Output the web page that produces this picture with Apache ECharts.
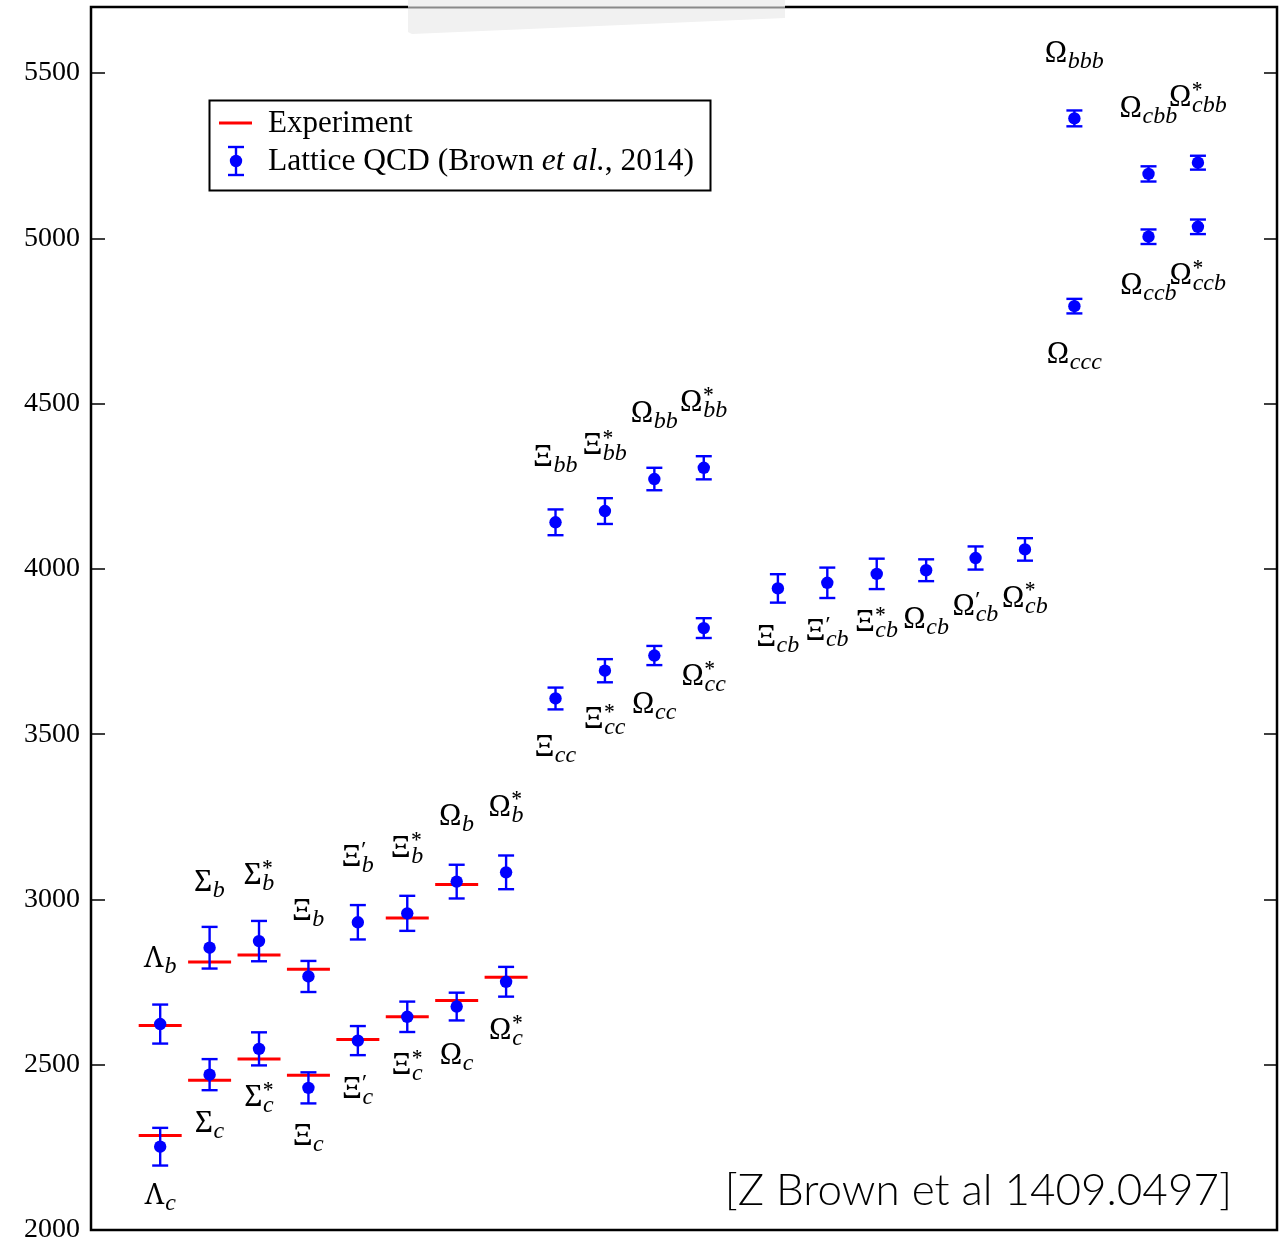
<!DOCTYPE html>
<html>
<head>
<meta charset="utf-8">
<script src="https://cdn.jsdelivr.net/npm/echarts@6/dist/echarts.min.js"></script>
<style>
  html, body { margin: 0; padding: 0; background: #fff; }
  #main { width: 1280px; height: 1242px; }
</style>
</head>
<body>
<div id="main"></div>
<script>
// slots along the hidden x axis
const singlySlots = [0, 1, 2, 3, 4, 5, 6, 7];
const doublySlots = [8, 9, 10, 11];
const cbSlots = [12.5, 13.5, 14.5, 15.5, 16.5, 17.5];
const triplySlots = [18.5, 20, 21];

// singly charmed baryons
const charmNames = ['Λ_c', 'Σ_c', 'Σ^*_c', 'Ξ_c', 'Ξ^′_c', 'Ξ^*_c', 'Ω_c', 'Ω^*_c'];
const charmLattice = [2252, 2470, 2548, 2430, 2573, 2645, 2676, 2751];
const charmErr = [57, 47, 50, 47, 44, 46, 42, 45];
const charmExpt = [2286, 2453, 2517, 2468, 2576, 2645, 2694, 2765];

// singly bottom baryons (shifted down by 3000)
const bottomNames = ['Λ_b', 'Σ_b', 'Σ^*_b', 'Ξ_b', 'Ξ^′_b', 'Ξ^*_b', 'Ω_b', 'Ω^*_b'];
const bottomLattice = [2623, 2854, 2874, 2767, 2931, 2958, 3054, 3082];
const bottomErr = [59, 63, 61, 47, 52, 53, 51, 51];
const bottomExpt = [2619, 2811, 2832, 2789, null, 2944, 3045, null];

// doubly heavy
const ccNames = ['Ξ_cc', 'Ξ^*_cc', 'Ω_cc', 'Ω^*_cc'];
const ccLattice = [3608, 3692, 3738, 3821];
const ccErr = [33, 35, 29, 30];

const bbNames = ['Ξ_bb', 'Ξ^*_bb', 'Ω_bb', 'Ω^*_bb'];
const bbLattice = [4141, 4175, 4272, 4306];
const bbErr = [39, 39, 34, 35];

const cbNames = ['Ξ_cb', 'Ξ^′_cb', 'Ξ^*_cb', 'Ω_cb', 'Ω^′_cb', 'Ω^*_cb'];
const cbLattice = [3941, 3958, 3985, 3996, 4033, 4059];
const cbErr = [43, 46, 46, 33, 35, 34];

// triply heavy
const triLowNames = ['Ω_ccc', 'Ω_ccb', 'Ω^*_ccb'];
const triLowLattice = [4795, 5005, 5035];
const triLowErr = [22, 22, 22];

const triHighNames = ['Ω_bbb', 'Ω_cbb', 'Ω^*_cbb'];
const triHighLattice = [5363, 5195, 5229];
const triHighErr = [24, 23, 21];

const yTicks = [2000, 2500, 3000, 3500, 4000, 4500, 5000, 5500];

const SERIF = '"Liberation Serif", "DejaVu Serif", serif';
const GREEK = '"Noto Serif", "DejaVu Serif", serif';
const BLUE = '#0000ff';
const RED = '#ff0000';

const groups = [
  { slots: singlySlots, names: charmNames, lattice: charmLattice, err: charmErr, side: 'below' },
  { slots: singlySlots, names: bottomNames, lattice: bottomLattice, err: bottomErr, side: 'above' },
  { slots: doublySlots, names: ccNames, lattice: ccLattice, err: ccErr, side: 'below' },
  { slots: doublySlots, names: bbNames, lattice: bbLattice, err: bbErr, side: 'above' },
  { slots: cbSlots, names: cbNames, lattice: cbLattice, err: cbErr, side: 'below' },
  { slots: triplySlots, names: triLowNames, lattice: triLowLattice, err: triLowErr, side: 'below' },
  { slots: triplySlots, names: triHighNames, lattice: triHighLattice, err: triHighErr, side: 'above' }
];

const points = [];
groups.forEach(function (g) {
  g.slots.forEach(function (s, i) {
    points.push({ value: [s, g.lattice[i], g.err[i]], name: g.names[i], side: g.side });
  });
});

const exptData = [];
singlySlots.forEach(function (s, i) {
  if (charmExpt[i] != null) exptData.push([s, charmExpt[i]]);
  if (bottomExpt[i] != null) exptData.push([s, bottomExpt[i]]);
});

// text measuring for the math-style labels
const measureCtx = document.createElement('canvas').getContext('2d');
function textWidth(t, font) {
  measureCtx.font = font;
  return measureCtx.measureText(t).width;
}
const baseFont = '29px ' + GREEK;
const subFont = 'italic 24px ' + SERIF;
const supFont = '21px ' + GREEK;

function txt(text, x, y, font) {
  return {
    type: 'text',
    x: x,
    y: y,
    style: {
      text: text, font: font, fill: '#000',
      align: 'left', verticalAlign: 'middle',
      textAlign: 'left', textVerticalAlign: 'middle'
    }
  };
}

function labelChildren(name, cx, capMid) {
  const base = name.charAt(0);
  const rest = name.slice(1);
  let sup = '';
  let sub = '';
  const m = rest.match(/^(?:\^([^_]*))?(?:_(.*))?$/);
  if (m) { sup = m[1] || ''; sub = m[2] || ''; }
  const wb = textWidth(base, baseFont);
  const ws = sub ? textWidth(sub, subFont) : 0;
  const wu = sup ? textWidth(sup, supFont) : 0;
  const total = wb + 1 + Math.max(ws, wu);
  const left = cx - total / 2;
  const out = [txt(base, left, capMid, baseFont)];
  if (sub) out.push(txt(sub, left + wb + 1, capMid + 8, subFont));
  if (sup) out.push(txt(sup, left + wb + 1, capMid - 5, supFont));
  return out;
}

const chart = echarts.init(document.getElementById('main'));

const option = {
  backgroundColor: '#fff',
  animation: false,
  grid: {
    left: 91, right: 3, top: 7, bottom: 12,
    show: true, borderColor: '#000', borderWidth: 2.5,
    outerBoundsMode: 'none'
  },
  xAxis: {
    type: 'value', min: -1.4, max: 22.6, show: false
  },
  yAxis: [{
    type: 'value', min: 2000, max: 5700, interval: 500, position: 'left',
    axisLine: { show: false, onZero: false },
    axisTick: { show: true, inside: true, length: 14, lineStyle: { color: '#000', width: 1.5 } },
    splitLine: { show: false },
    axisLabel: {
      color: '#000', fontFamily: SERIF, fontSize: 28, margin: 11,
      formatter: function (v) { return yTicks.indexOf(v) >= 0 ? String(v) : ''; }
    }
  }, {
    type: 'value', min: 2000, max: 5700, interval: 500, position: 'right',
    axisLine: { show: false, onZero: false },
    axisTick: { show: true, inside: true, length: 13, lineStyle: { color: '#000', width: 1.5 } },
    splitLine: { show: false },
    axisLabel: { show: false }
  }],
  series: [{
    name: 'Experiment',
    type: 'custom',
    z: 2,
    data: exptData,
    renderItem: function (params, api) {
      const c = api.coord([api.value(0), api.value(1)]);
      const half = api.size([0.87, 0])[0] / 2;
      return {
        type: 'line',
        shape: { x1: c[0] - half, y1: c[1], x2: c[0] + half, y2: c[1] },
        style: { stroke: RED, lineWidth: 3 }
      };
    }
  }, {
    name: 'Lattice QCD (Brown et al., 2014)',
    type: 'custom',
    z: 3,
    data: points.map(function (p) { return { value: p.value, name: p.name }; }),
    renderItem: function (params, api) {
      const x = api.value(0), v = api.value(1), e = api.value(2);
      const c = api.coord([x, v]);
      const hi = api.coord([x, v + e]);
      const lo = api.coord([x, v - e]);
      const cap = 8;
      const st = { stroke: BLUE, lineWidth: 2.4 };
      return {
        type: 'group',
        children: [
          { type: 'line', shape: { x1: c[0], y1: hi[1], x2: c[0], y2: lo[1] }, style: st },
          { type: 'line', shape: { x1: c[0] - cap, y1: hi[1], x2: c[0] + cap, y2: hi[1] }, style: st },
          { type: 'line', shape: { x1: c[0] - cap, y1: lo[1], x2: c[0] + cap, y2: lo[1] }, style: st },
          { type: 'circle', shape: { cx: c[0], cy: c[1], r: 6.2 }, style: { fill: BLUE } }
        ]
      };
    }
  }, {
    name: 'labels',
    type: 'custom',
    z: 4,
    silent: true,
    data: points.map(function (p) { return p.value; }),
    renderItem: function (params, api) {
      const p = points[params.dataIndex];
      const c = api.coord([api.value(0), api.value(1)]);
      const capMid = p.side === 'below' ? c[1] + 49 : c[1] - 65;
      return { type: 'group', children: labelChildren(p.name, c[0], capMid) };
    }
  }],
  graphic: [
    // tape mark across the top edge of the scan
    {
      type: 'polygon', z: 100,
      shape: { points: [[408, 0], [785, 0], [785, 18], [412, 34], [408, 32]] },
      style: { fill: '#f1f1f1' }
    },
    {
      type: 'line', z: 101,
      shape: { x1: 408, y1: 7.5, x2: 785, y2: 7.5 },
      style: { stroke: '#8a8a8a', lineWidth: 2 }
    },
    // legend box
    {
      type: 'group', z: 50,
      children: [
        { type: 'rect', shape: { x: 209.5, y: 100.5, width: 501, height: 90 },
          style: { fill: '#fff', stroke: '#000', lineWidth: 2 } },
        { type: 'line', shape: { x1: 219, y1: 123, x2: 252, y2: 123 },
          style: { stroke: RED, lineWidth: 3 } },
        { type: 'text', x: 268, y: 124,
          style: { text: 'Experiment', font: '31px ' + SERIF, fill: '#000',
            align: 'left', verticalAlign: 'middle', textAlign: 'left', textVerticalAlign: 'middle' } },
        { type: 'line', shape: { x1: 236, y1: 147, x2: 236, y2: 175 },
          style: { stroke: BLUE, lineWidth: 2.4 } },
        { type: 'line', shape: { x1: 228, y1: 147, x2: 244, y2: 147 },
          style: { stroke: BLUE, lineWidth: 2.4 } },
        { type: 'line', shape: { x1: 228, y1: 175, x2: 244, y2: 175 },
          style: { stroke: BLUE, lineWidth: 2.4 } },
        { type: 'circle', shape: { cx: 236, cy: 161, r: 6.2 }, style: { fill: BLUE } },
        { type: 'text', x: 268, y: 162,
          style: {
            text: '{n|Lattice QCD (Brown }{i|et al.}{n|, 2014)}',
            align: 'left', verticalAlign: 'middle', textAlign: 'left', textVerticalAlign: 'middle',
            rich: {
              n: { fontFamily: SERIF, fontSize: 31.5, color: '#000' },
              i: { fontFamily: SERIF, fontSize: 31.5, fontStyle: 'italic', color: '#000' }
            }
          } }
      ]
    },
    {
      type: 'text', z: 50, x: 1232, y: 1191,
      style: {
        text: '[Z Brown et al 1409.0497]',
        font: '300 44px Lato, "Open Sans", sans-serif', fill: '#000',
        align: 'right', verticalAlign: 'middle', textAlign: 'right', textVerticalAlign: 'middle'
      }
    }
  ]
};

chart.setOption(option);
</script>
</body>
</html>
